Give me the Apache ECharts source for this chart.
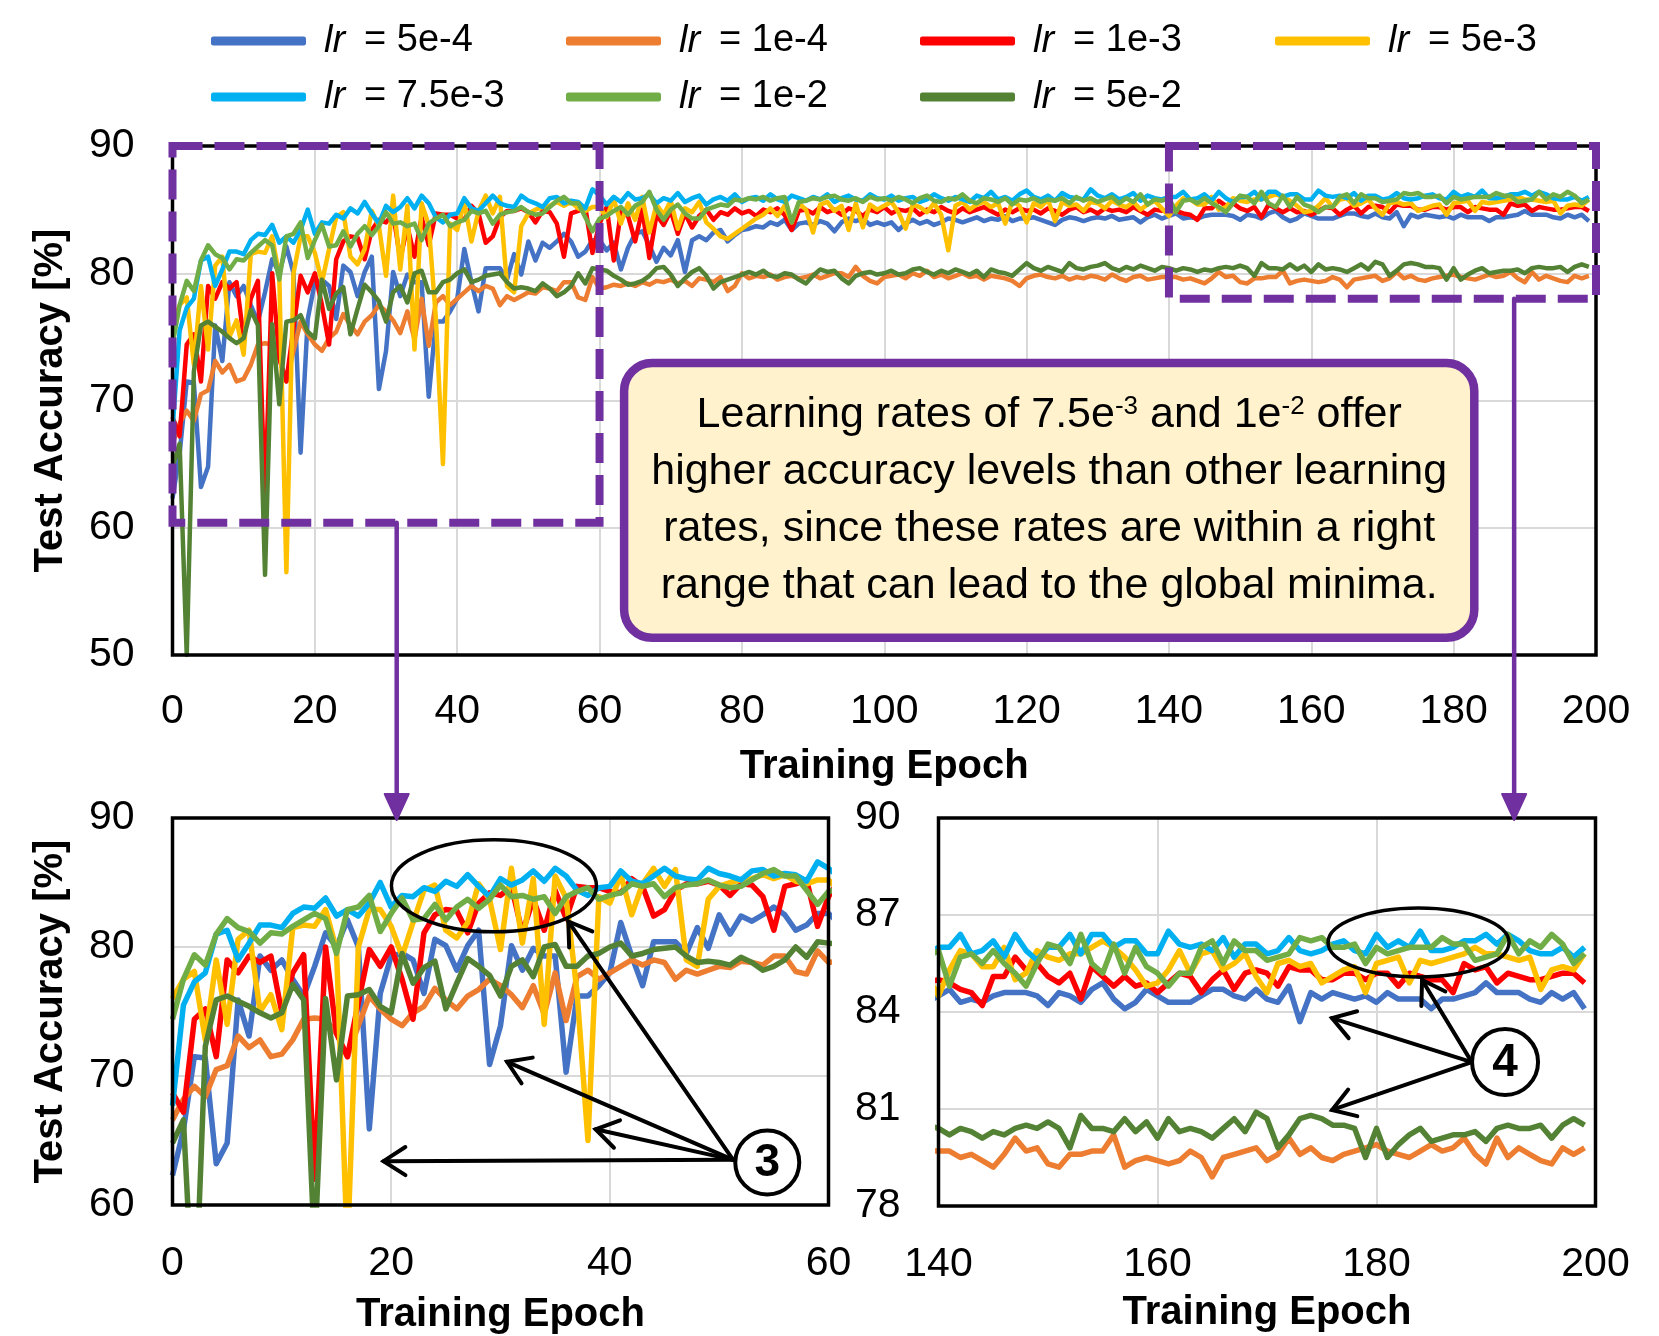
<!DOCTYPE html>
<html><head><meta charset="utf-8">
<script src="https://cdn.jsdelivr.net/npm/echarts@6/dist/echarts.min.js"></script>
<style>html,body{margin:0;padding:0;background:#fff}#c{width:1659px;height:1336px}</style>
</head><body><div id="c"></div>
<script>
// ---------------- DATA ----------------
const seriesNames = ['lr = 5e-4','lr = 1e-4','lr = 1e-3','lr = 5e-3','lr = 7.5e-3','lr = 1e-2','lr = 5e-2'];
const seriesColors = ['#4472C4','#ED7D31','#FF0000','#FFC000','#00B0F0','#70AD47','#548235'];

const lr5e4 = [62.3,65.8,71.5,71.4,63.2,64.8,75.9,73.1,79.3,78.2,79.0,77.5,76.2,78.5,81.1,80.0,82.1,80.0,65.9,76.4,79.3,79.5,79.0,76.4,80.6,80.1,78.2,80.1,81.3,70.9,73.9,
80.1,78.2,79.9,79.3,79.3,70.3,76.2,76.2,77.0,78.0,81.9,79.3,77.0,80.4,80.4,80.4,79.5,81.5,79.9,82.5,81.0,82.4,82.0,82.5,83.1,82.5,81.3,81.7,82.6,82.6,
81.8,82.4,80.3,82.0,83.1,83.3,82.2,80.9,82.0,81.4,82.6,80.1,82.6,82.9,82.6,83.2,83.4,82.5,83.0,83.4,
83.5,83.7,83.6,84.0,83.8,84.2,83.4,83.9,84.0,83.8,84.1,83.9,83.3,84.0,84.3,84.1,84.3,83.8,84.0,83.8,
84.0,83.4,83.9,84.2,83.9,84.1,83.8,84.0,84.3,84.2,84.0,84.2,84.4,84.1,84.3,84.2,84.5,84.1,84.3,84.3,
84.4,84.2,84.0,83.8,84.2,84.4,84.3,84.1,84.3,84.4,84.3,84.5,84.2,84.3,84.4,84.0,84.4,84.6,84.3,
84.5,84.7,84.3,84.4,84.3,84.5,84.6,84.6,84.6,84.5,84.2,84.6,84.5,84.3,84.7,84.9,84.4,84.1,84.3,84.7,84.5,84.3,84.3,84.3,84.5,84.7,84.7,84.5,84.4,84.7,84.4,
84.3,84.8,83.7,84.6,84.4,84.6,84.5,84.4,84.5,84.3,84.6,84.4,84.4,84.4,84.1,84.4,84.4,84.5,84.6,84.9,84.6,84.6,84.6,84.4,84.3,84.6,84.4,84.6,84.1];

const lr1e4 = [66.6,68.2,69.2,68.4,70.5,70.8,73.1,72.2,72.8,71.5,71.7,72.8,74.4,74.5,74.4,73.3,71.5,73.9,76.2,75.2,74.4,73.9,74.9,75.4,76.8,75.9,75.2,76.2,76.7,77.5,77.0,
76.3,75.3,77.0,74.8,78.0,74.3,77.7,78.2,77.5,78.0,78.5,79.0,78.6,79.0,78.8,77.5,78.2,77.9,78.2,78.5,78.4,78.9,78.8,78.6,79.3,79.3,78.1,77.9,79.7,78.8,
78.9,79.1,79.0,79.2,79.0,79.3,79.1,79.4,79.3,79.5,79.2,79.4,79.0,79.6,79.5,79.3,79.7,78.6,79.0,80.0,
79.6,79.8,79.7,79.9,79.5,79.7,79.8,79.6,79.7,79.9,79.6,79.8,80.0,80.0,79.7,80.5,79.8,79.4,79.2,79.7,
79.8,79.9,79.6,80.0,79.8,80.2,79.7,79.9,79.6,79.8,80.0,79.7,79.8,79.5,79.8,79.7,79.6,79.4,79.0,79.6,
79.8,79.9,79.7,79.6,79.8,79.5,79.7,79.6,79.8,79.7,79.5,79.9,79.6,79.4,79.7,79.8,79.5,79.6,79.7,
79.7,79.7,79.5,79.6,79.4,79.2,79.6,80.1,79.7,79.8,79.3,79.2,79.6,79.6,79.7,79.7,80.2,79.2,79.4,79.5,79.4,79.3,79.4,79.7,79.5,78.9,79.5,79.6,79.7,79.8,79.4,
79.6,80.1,79.6,79.8,79.5,79.4,79.6,79.7,79.8,79.9,79.7,79.6,79.5,79.7,79.9,79.7,79.8,80.1,79.6,79.3,80.1,79.5,79.8,79.6,79.4,79.3,79.8,79.6,79.8];

const lr1e3 = [68.7,67.2,74.4,75.2,71.5,79.0,78.0,79.3,78.8,79.3,74.9,78.0,79.4,62.0,80.0,73.3,71.5,75.7,79.8,78.5,80.0,77.5,74.4,81.1,82.5,82.9,82.8,81.1,83.4,84.2,84.0,
84.7,81.1,83.7,81.3,84.4,82.2,84.7,84.6,84.6,84.3,84.2,85.3,84.7,82.4,82.9,84.4,84.9,84.9,85.1,84.8,84.0,84.9,84.8,83.9,81.3,84.7,84.9,85.2,81.6,83.9,
85.2,81.0,84.8,84.5,82.5,85.0,81.2,84.6,83.8,84.9,83.1,84.7,83.6,84.5,85.0,84.2,84.8,84.6,85.1,84.7,
84.9,84.5,85.0,84.8,85.1,84.6,83.4,84.9,85.0,84.7,85.2,84.8,85.0,84.6,85.1,84.9,84.5,85.0,84.8,85.2,
84.7,85.0,84.9,85.1,84.6,85.0,84.8,85.2,84.9,84.7,85.1,84.8,85.0,85.2,84.9,84.6,85.0,84.8,85.1,84.9,
85.0,84.7,85.1,84.9,84.6,85.0,85.2,84.8,85.0,84.7,85.1,84.9,85.0,84.8,85.2,84.9,84.6,85.0,84.9,
85.0,84.9,84.7,84.6,84.2,85.1,85.1,85.7,85.3,85.5,85.1,84.9,85.2,84.4,85.4,85.1,84.8,85.1,84.8,84.9,84.6,84.9,85.2,85.1,84.6,85.0,85.3,84.7,85.2,85.3,85.2,
84.8,85.4,85.3,85.3,85.0,85.0,85.2,85.2,85.0,85.2,85.2,84.8,85.2,85.1,85.0,85.0,84.6,85.5,85.3,85.4,84.9,85.2,85.1,85.0,85.0,85.1,85.2,85.2,84.9];

const lr5e3 = [76.0,77.5,78.1,72.8,79.0,74.0,80.6,81.3,75.0,76.3,73.6,81.5,81.7,81.6,82.9,79.8,56.5,80.0,82.9,82.9,81.6,79.3,81.9,84.4,84.8,81.3,80.7,81.9,84.9,83.7,79.8,
86.1,80.3,85.3,74.0,85.5,83.8,76.5,65.0,83.9,83.4,85.6,82.5,84.9,86.1,84.7,86.0,79.0,78.5,83.7,84.7,85.0,85.2,85.3,85.6,85.3,85.6,85.1,84.9,85.2,85.2,
84.4,85.8,83.9,85.5,84.2,86.0,83.2,85.4,84.6,85.7,83.5,85.1,84.8,85.6,84.0,83.5,82.9,82.7,83.1,83.5,
83.9,84.3,84.6,85.1,84.5,85.3,84.0,85.5,85.0,83.2,85.4,85.6,84.9,85.3,83.4,85.5,83.6,85.4,85.0,85.3,
85.6,84.8,83.5,85.4,85.2,84.8,85.5,84.6,81.8,85.3,85.6,85.0,85.4,85.6,85.2,85.5,83.9,85.7,85.3,84.0,
85.5,85.2,85.8,84.1,85.6,85.3,85.4,84.9,85.6,85.5,85.1,85.7,85.4,85.2,85.6,85.0,85.4,85.7,85.1,
84.5,85.3,85.9,85.8,85.4,85.4,86.0,85.0,85.2,85.9,85.7,85.6,85.8,85.8,86.0,86.2,86.0,85.7,85.3,84.8,84.9,85.3,85.9,85.2,85.8,85.9,85.3,85.5,85.8,85.1,84.6,
85.5,85.6,85.4,85.5,84.9,85.1,85.3,85.4,84.6,85.5,85.6,85.7,84.9,85.6,85.5,85.6,85.7,85.8,86.0,85.8,85.8,85.7,85.6,85.7,84.7,85.3,85.4,85.3,85.8];

const lr75e3 = [67.7,75.5,77.3,78.0,81.0,81.3,79.0,80.3,81.7,81.7,81.5,82.6,83.1,83.0,83.8,82.4,82.9,82.4,83.4,85.0,83.1,84.0,83.9,84.6,84.3,85.1,84.7,85.6,84.7,83.9,85.3,
84.8,85.2,85.9,85.1,86.1,85.5,84.4,84.0,84.6,84.7,85.9,85.1,84.9,85.5,86.1,85.5,85.3,85.2,86.1,85.7,85.5,85.2,85.9,86.0,85.5,85.7,85.6,85.1,86.6,86.1,
85.4,86.0,85.6,86.3,85.8,85.9,86.2,85.5,85.9,85.7,86.3,85.6,85.9,86.1,85.4,85.8,86.0,85.7,86.2,85.6,
85.9,86.0,85.7,86.2,85.8,85.6,86.1,85.9,85.7,86.0,85.8,86.2,85.6,85.9,86.1,85.8,85.7,86.2,85.9,85.8,
86.1,85.7,85.9,86.0,85.6,85.8,86.2,85.9,85.7,86.0,85.8,85.6,86.1,85.9,86.4,85.8,86.0,85.7,86.2,86.5,
86.0,85.8,86.1,85.7,86.3,86.0,85.9,85.8,86.6,86.1,85.9,86.2,85.8,86.0,86.3,85.7,86.1,85.9,85.8,
86.0,86.0,86.4,85.8,85.9,86.2,85.7,86.4,85.9,85.6,86.0,86.0,86.4,85.8,86.4,86.4,86.0,86.2,86.2,85.8,85.8,86.5,86.1,86.0,86.1,85.9,86.3,85.7,86.1,86.1,85.8,
85.9,86.3,85.9,85.8,85.9,86.1,86.2,85.9,85.8,86.4,86.0,86.2,86.0,86.5,85.9,85.9,86.0,86.2,86.2,86.4,86.1,86.4,86.2,85.9,85.8,85.8,86.0,85.7,86.0];

const lr1e2 = [74.4,77.5,79.4,78.6,81.0,82.2,81.5,81.2,80.3,81.1,81.0,81.6,82.1,82.6,82.2,79.5,82.9,83.1,84.0,81.2,82.6,83.8,82.1,82.2,83.3,82.1,83.1,83.7,83.0,83.7,84.8,
83.9,84.0,83.7,83.9,82.6,83.9,84.3,84.6,83.7,84.0,84.2,84.9,84.7,84.9,83.9,84.6,84.8,84.9,85.2,84.8,84.6,84.7,85.2,85.7,86.0,85.5,85.5,84.4,83.3,84.3,
84.5,84.9,85.2,84.6,85.3,85.6,86.4,85.0,84.2,85.0,85.4,84.7,84.3,84.3,85.0,85.2,85.4,85.3,85.8,85.7,
85.9,85.8,86.0,85.7,85.9,86.0,84.0,85.6,85.7,85.9,85.8,86.0,86.1,85.8,85.7,85.9,85.6,86.0,85.8,85.9,
85.7,86.0,85.8,85.5,85.9,86.1,85.7,85.6,85.9,85.8,86.2,85.7,85.5,85.9,85.8,85.6,85.9,85.4,85.8,85.7,
85.9,85.6,85.8,85.7,85.9,85.5,86.0,85.7,85.9,85.6,85.8,86.0,85.5,85.9,85.6,86.2,85.4,85.8,85.7,
85.9,84.8,85.7,85.8,85.5,85.9,85.5,85.2,84.8,85.5,86.1,86.0,85.5,86.4,85.5,85.2,86.1,85.2,86.0,85.4,85.2,84.8,85.2,85.2,86.0,86.2,85.5,86.2,85.9,85.9,85.6,
85.7,85.8,86.3,86.2,86.3,86.0,86.0,86.1,85.5,86.0,85.8,85.9,86.0,86.0,86.0,86.3,86.1,86.1,85.6,85.7,85.8,86.4,85.8,86.2,86.0,86.4,86.1,85.5,85.8];

const lr5e2 = [64.8,66.6,50.0,72.3,75.9,76.2,75.8,75.4,74.9,74.5,74.9,77.1,75.9,56.3,76.0,69.7,76.2,76.3,76.7,75.4,74.9,79.5,77.2,78.4,78.9,75.2,77.2,79.1,78.5,77.8,76.2,
78.5,79.0,77.7,80.0,80.2,78.5,78.5,79.3,79.5,80.0,80.3,79.3,79.5,79.8,79.9,80.0,79.3,78.8,78.9,78.8,78.6,79.2,78.8,78.2,78.5,79.0,80.0,79.2,80.4,80.3,
80.2,79.8,79.5,79.1,79.2,79.4,79.8,80.4,80.5,79.9,79.0,79.6,80.1,80.4,79.8,78.8,79.3,79.5,79.7,79.9,
80.1,79.9,80.2,79.8,79.7,80.0,79.9,79.5,79.2,79.8,80.3,80.1,80.2,79.6,79.2,79.8,80.0,80.1,79.9,80.0,
80.2,79.9,80.0,80.3,80.4,80.1,79.9,80.2,80.0,80.3,80.1,79.9,80.2,79.7,80.3,80.1,80.0,79.8,80.3,80.8,
80.4,80.2,80.5,80.3,80.1,80.8,80.4,80.3,80.5,80.6,80.8,80.4,80.2,80.5,80.3,80.6,80.4,80.2,80.5,
80.4,80.2,80.4,80.3,80.1,80.3,80.2,80.4,80.5,80.4,80.6,80.4,79.8,80.8,80.4,80.4,80.3,80.7,80.3,80.6,80.1,80.7,80.3,80.4,80.3,80.1,80.4,80.7,80.3,80.9,80.7,
79.8,80.2,80.7,80.8,80.7,80.5,80.5,80.4,79.5,80.4,79.5,79.9,80.2,80.4,80.0,80.1,80.2,80.2,80.3,80.0,80.4,80.5,80.4,80.4,80.5,80.1,80.5,80.7,80.5];

const seriesData = [lr5e4, lr1e4, lr1e3, lr5e3, lr75e3, lr1e2, lr5e2];
const epochs = lr5e4.map((_, i) => i); // epoch index 0..199

// ---------------- LAYOUT / STYLE ----------------
const FF = "'Liberation Sans', Arial, sans-serif";
const PURPLE = '#7030A0';
const GRIDS = [
  {left: 172.5, top: 146, width: 1423.5, height: 509},
  {left: 172.5, top: 818, width: 656, height: 388},
  {left: 938.5, top: 818, width: 657, height: 388}
];
const XR = [{min:0,max:200,interval:20},{min:0,max:60,interval:20},{min:140,max:200,interval:20}];
const YR = [{min:50,max:90,interval:10},{min:60,max:90,interval:10},{min:78,max:90,interval:3}];
const LW = [4.5, 5.5, 5.5];
const TICK_FS = 41, TITLE_FS = 40, LEGEND_FS = 38, BOX_FS = 43;

const chart = echarts.init(document.getElementById('c'), null, {renderer: 'canvas'});

const xAxis = GRIDS.map((g, i) => ({
  type: 'value', gridIndex: i, min: XR[i].min, max: XR[i].max, interval: XR[i].interval,
  name: 'Training Epoch', nameLocation: 'middle', nameGap: [92, 90, 87][i],
  nameTextStyle: {fontFamily: FF, fontWeight: 'bold', fontSize: TITLE_FS, color: '#000'},
  axisLine: {show: false}, axisTick: {show: false},
  axisLabel: {fontFamily: FF, fontSize: TICK_FS, color: '#000', margin: i === 0 ? 36 : 38},
  splitLine: {show: true, lineStyle: {color: '#D9D9D9', width: 2}}
}));
const yAxis = GRIDS.map((g, i) => ({
  type: 'value', gridIndex: i, min: YR[i].min, max: YR[i].max, interval: YR[i].interval,
  name: i < 2 ? 'Test Accuracy [%]' : '', nameLocation: 'middle', nameGap: 102, nameRotate: 90,
  nameTextStyle: {fontFamily: FF, fontWeight: 'bold', fontSize: TITLE_FS, color: '#000'},
  axisLine: {show: false}, axisTick: {show: false},
  axisLabel: {fontFamily: FF, fontSize: TICK_FS, color: '#000', margin: 38},
  splitLine: {show: true, lineStyle: {color: '#D9D9D9', width: 2}}
}));

const series = [];
GRIDS.forEach((g, gi) => {
  seriesNames.forEach((n, k) => {
    series.push({
      type: 'line', name: n, xAxisIndex: gi, yAxisIndex: gi,
      data: seriesData[k].map((v, i) => [epochs[i], v]),
      symbol: 'none', showSymbol: false, clip: true, silent: true,
      lineStyle: {width: LW[gi], color: seriesColors[k], join: 'round'},
      itemStyle: {color: seriesColors[k]}, z: 2 + k
    });
  });
});

const legendCols = [211, 566, 920, 1275];
const legendRows = [22, 78];
const legend = seriesNames.map((n, k) => ({
  data: [n], left: legendCols[k % 4], top: legendRows[Math.floor(k / 4)],
  itemWidth: 95, itemHeight: 9, icon: 'roundRect', selectedMode: false, padding: 0,
  formatter: nm => '{i|lr}{t|= ' + nm.split('= ')[1] + '}',
  textStyle: {fontFamily: FF, fontSize: LEGEND_FS, color: '#000',
    rich: {i: {fontFamily: FF, fontSize: LEGEND_FS, fontStyle: 'italic', color: '#000', padding: [0, 0, 0, 13]},
           t: {fontFamily: FF, fontSize: LEGEND_FS, color: '#000', padding: [0, 0, 0, 19]}}}
}));

chart.setOption({
  animation: false,
  backgroundColor: '#fff',
  grid: GRIDS.map(g => Object.assign({containLabel: false}, g)),
  xAxis, yAxis, legend, series
});

// ---------------- ANNOTATIONS ----------------
const px = (gi, x, y) => chart.convertToPixel({gridIndex: gi}, [x, y]);
const G = [];
function line(x0, y0, x1, y1, color, lw) {
  G.push({type: 'line', z: 100, shape: {x1: x0, y1: y0, x2: x1, y2: y1}, style: {stroke: color, lineWidth: lw, lineCap: 'round'}});
}
function chevronArrow(a, b, color, lw, len, ang) {
  line(a[0], a[1], b[0], b[1], color, lw);
  const t = Math.atan2(b[1] - a[1], b[0] - a[0]);
  G.push({type: 'polyline', z: 100, shape: {points: [
    [b[0] - len * Math.cos(t - ang), b[1] - len * Math.sin(t - ang)], [b[0], b[1]],
    [b[0] - len * Math.cos(t + ang), b[1] - len * Math.sin(t + ang)]]},
    style: {stroke: color, fill: 'none', lineWidth: lw, lineCap: 'round', lineJoin: 'miter'}});
}
// plot frames
GRIDS.forEach((g, gi) => {
  const p0 = px(gi, XR[gi].min, YR[gi].max), p1 = px(gi, XR[gi].max, YR[gi].min);
  G.push({type: 'rect', z: 50, shape: {x: p0[0], y: p0[1], width: p1[0] - p0[0], height: p1[1] - p0[1]},
    style: {fill: 'none', stroke: '#000', lineWidth: 3.5}});
});
// purple dashed zoom boxes on main chart
const zoomBoxes = [{x0: 0, x1: 60, y0: 60.4, y1: 90, ax: 31.5, target: 1}, {x0: 140, x1: 200, y0: 78, y1: 90, ax: 188.5, target: 2}];
zoomBoxes.forEach(zb => {
  const p0 = px(0, zb.x0, zb.y1), p1 = px(0, zb.x1, zb.y0);
  G.push({type: 'rect', z: 60, shape: {x: p0[0], y: p0[1], width: p1[0] - p0[0], height: p1[1] - p0[1]},
    style: {fill: 'none', stroke: PURPLE, lineWidth: 8, lineDash: [30, 12]}});
  const ax = px(0, zb.ax, zb.y0)[0];
  const tip = px(zb.target, XR[zb.target].min, YR[zb.target].max)[1] + 2;
  line(ax, p1[1], ax, tip - 14, PURPLE, 4.5);
  G.push({type: 'polygon', z: 100, shape: {points: [[ax - 12, tip - 26], [ax + 12, tip - 26], [ax, tip]]},
    style: {fill: PURPLE, stroke: PURPLE, lineWidth: 2, lineJoin: 'round'}});
});
// text box
const b0 = px(0, 63.45, 72.95), b1 = px(0, 182.9, 51.35);
G.push({type: 'rect', z: 70, shape: {x: b0[0], y: b0[1], width: b1[0] - b0[0], height: b1[1] - b0[1], r: 28},
  style: {fill: '#FFF2CC', stroke: PURPLE, lineWidth: 8.5}});
const bcx = (b0[0] + b1[0]) / 2, bcy = (b0[1] + b1[1]) / 2;
const boxLines = ['Learning rates of 7.5e{s|-3} and 1e{s|-2} offer', 'higher accuracy levels than other learning',
  'rates, since these rates are within a right', 'range that can lead to the global minima.'];
boxLines.forEach((t, i) => {
  G.push({type: 'text', z: 80, x: bcx, y: bcy + (i - 1.5) * 57,
    style: {text: t, fill: '#000', fontFamily: FF, fontSize: BOX_FS, align: 'center', verticalAlign: 'middle',
      rich: {s: {fontFamily: FF, fontSize: 26, fill: '#000', verticalAlign: 'top'}}}});
});
// callouts
function callout(gi, ell, circ, label, from, tips) {
  const c = px(gi, ell.x, ell.y);
  G.push({type: 'ellipse', z: 90, shape: {cx: c[0], cy: c[1], rx: ell.rx, ry: ell.ry}, style: {fill: 'none', stroke: '#000', lineWidth: 3.5}});
  const s = px(gi, from[0], from[1]);
  tips.forEach(t => chevronArrow(s, px(gi, t[0], t[1]), '#000', 4, 26, Math.PI / 5.5));
  const cc = px(gi, circ.x, circ.y);
  G.push({type: 'circle', z: 110, shape: {cx: cc[0], cy: cc[1], r: circ.r}, style: {fill: '#fff', stroke: '#000', lineWidth: 4}});
  G.push({type: 'text', z: 120, x: cc[0], y: cc[1] + 1, style: {text: label, fill: '#000', fontFamily: FF, fontWeight: 'bold', fontSize: 46, align: 'center', verticalAlign: 'middle'}});
}
callout(1, {x: 29.4, y: 84.74, rx: 102.5, ry: 46}, {x: 54.4, y: 63.3, r: 32}, '3', [51.28, 63.5],
  [[36.2, 81.98], [30.6, 71.1], [38.7, 65.87], [19.3, 63.4]]);
callout(2, {x: 183.84, y: 86.15, rx: 90.5, ry: 34.5}, {x: 191.74, y: 82.45, r: 33}, '4', [188.7, 82.45],
  [[184.16, 84.99], [175.94, 83.81], [175.94, 80.97]]);

chart.setOption({graphic: {elements: G}});
</script>
</body></html>
